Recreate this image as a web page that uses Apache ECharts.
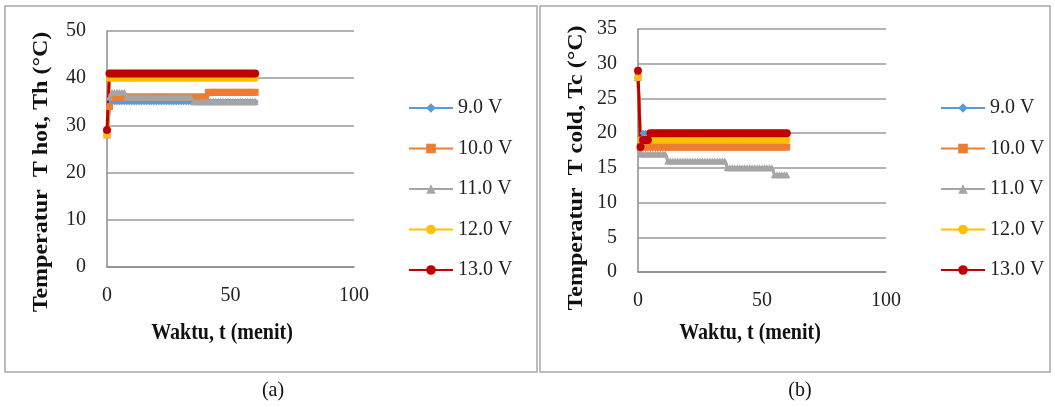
<!DOCTYPE html>
<html>
<head>
<meta charset="utf-8">
<script src="https://cdn.jsdelivr.net/npm/echarts@6/dist/echarts.min.js"></script>
<style>
html,body{margin:0;padding:0;background:#fff;}
#c{width:1055px;height:407px;}
</style>
</head>
<body>
<div id="c"></div>
<script>
var times = [0,1,2,3,4,5,6,7,8,9,10,11,12,13,14,15,16,17,18,19,20,21,22,23,24,25,26,27,28,29,30,31,32,33,34,35,36,37,38,39,40,41,42,43,44,45,46,47,48,49,50,51,52,53,54,55,56,57,58,59,60];
var seriesNames = ['9.0 V','10.0 V','11.0 V','12.0 V','13.0 V'];
var xTicks = [0,50,100];

var hot9 = [28,34,35,35,35,35,35,35,35,35, 35,35,35,35,35,35,35,35,35,35, 35,35,35,35,35,35,35,35,35,35, 35,35,35,35,35,35,35,35,35,35, 35,35,35,35,35,35,35,35,35,35, 35,35,35,35,35,35,35,35,35,35, 35];
var hot10 = [28,34,36,36,36,36,36,36,36,36, 36,36,36,36,36,36,36,36,36,36, 36,36,36,36,36,36,36,36,36,36, 36,36,36,36,36,36,36,36,36,36, 36,37,37,37,37,37,37,37,37,37, 37,37,37,37,37,37,37,37,37,37, 37];
var hot11 = [28,36,37,37,37,37,37,37,36,36, 36,36,36,36,36,36,36,36,36,36, 36,36,36,36,36,36,36,36,36,36, 36,36,36,36,36,35,35,35,35,35, 35,35,35,35,35,35,35,35,35,35, 35,35,35,35,35,35,35,35,35,35, 35];
var hot12 = [28,40,40,40,40,40,40,40,40,40, 40,40,40,40,40,40,40,40,40,40, 40,40,40,40,40,40,40,40,40,40, 40,40,40,40,40,40,40,40,40,40, 40,40,40,40,40,40,40,40,40,40, 40,40,40,40,40,40,40,40,40,40, 40];
var hot13 = [29,41,41,41,41,41,41,41,41,41, 41,41,41,41,41,41,41,41,41,41, 41,41,41,41,41,41,41,41,41,41, 41,41,41,41,41,41,41,41,41,41, 41,41,41,41,41,41,41,41,41,41, 41,41,41,41,41,41,41,41,41,41, 41];

var cold9 = [28,19,20,20,20,20,20,20,20,20, 20,20,20,20,20,20,20,20,20,20, 20,20,20,20,20,20,20,20,20,20, 20,20,20,20,20,20,20,20,20,20, 20,20,20,20,20,20,20,20,20,20, 20,20,20,20,20,20,20,20,20,20, 20];
var cold10 = [28,18,18,18,18,18,18,18,18,18, 18,18,18,18,18,18,18,18,18,18, 18,18,18,18,18,18,18,18,18,18, 18,18,18,18,18,18,18,18,18,18, 18,18,18,18,18,18,18,18,18,18, 18,18,18,18,18,18,18,18,18,18, 18];
var cold11 = [28,17,17,17,17,17,17,17,17,17, 17,17,16,16,16,16,16,16,16,16, 16,16,16,16,16,16,16,16,16,16, 16,16,16,16,16,16,15,15,15,15, 15,15,15,15,15,15,15,15,15,15, 15,15,15,15,15,14,14,14,14,14, 14];
var cold12 = [28,19,19,19,19,19,19,19,19,19, 19,19,19,19,19,19,19,19,19,19, 19,19,19,19,19,19,19,19,19,19, 19,19,19,19,19,19,19,19,19,19, 19,19,19,19,19,19,19,19,19,19, 19,19,19,19,19,19,19,19,19,19, 19];
var cold13 = [29,18,19,19,19,20,20,20,20,20, 20,20,20,20,20,20,20,20,20,20, 20,20,20,20,20,20,20,20,20,20, 20,20,20,20,20,20,20,20,20,20, 20,20,20,20,20,20,20,20,20,20, 20,20,20,20,20,20,20,20,20,20, 20];

var colors = ['#5B9BD5','#ED7D31','#A5A5A5','#FFC000','#C00000'];
var symbols = ['diamond','rect','triangle','circle','circle'];
var symSizes = [7,7,7,7,8];

var FONT = '"Liberation Serif","Times New Roman",serif';

function pairs(vals){ return times.map(function(t,i){ return [t, vals[i]]; }); }

var hotSets = [hot9,hot10,hot11,hot12,hot13];
var coldSets = [cold9,cold10,cold11,cold12,cold13];

var series = [];
function addSeries(sets, gi){
  sets.forEach(function(vals,i){
    series.push({
      name: seriesNames[i], type:'line', xAxisIndex:gi, yAxisIndex:gi,
      data: pairs(vals), symbol: symbols[i], symbolSize: symSizes[i],
      showSymbol:true, animation:false,
      lineStyle:{color:colors[i], width:3},
      itemStyle:{color:colors[i], borderWidth:0}
    });
  });
}
addSeries(hotSets,0);
addSeries(coldSets,1);

function xAxis(gi){
  return {type:'value', gridIndex:gi, min:0, max:100, interval:50,
    axisLine:{show:true, onZero:false, lineStyle:{color:'#8c8c8c', width:1.5}},
    axisTick:{show:false}, splitLine:{show:false},
    axisLabel:{fontFamily:FONT, fontSize:20, color:'#222', margin:19,
      formatter:function(v){ return xTicks.indexOf(v)>=0 ? String(v) : ''; }}};
}
function yAxis(gi,max,iv){
  return {type:'value', gridIndex:gi, min:0, max:max, interval:iv,
    axisLine:{show:true, lineStyle:{color:'#8c8c8c', width:1.5}},
    axisTick:{show:false},
    splitLine:{show:true, lineStyle:{color:'#9a9a9a', width:1.5}},
    axisLabel:{fontFamily:FONT, fontSize:20, color:'#222', margin:21}};
}
function legend(left){
  return {orient:'vertical', left:left, top:93, itemWidth:44, itemHeight:12, itemGap:20.5,
    data:seriesNames, selectedMode:false,
    textStyle:{fontFamily:FONT, fontSize:20, color:'#222', lineHeight:20}};
}

var option = {
  animation:false,
  grid:[
    {left:107, top:31, width:247, height:236},
    {left:638, top:29, width:248, height:243}
  ],
  xAxis:[xAxis(0), xAxis(1)],
  yAxis:[yAxis(0,50,10), yAxis(1,35,5)],
  legend:[legend(403), legend(935)],
  series: series,
  graphic:[
    {type:'rect', shape:{x:5,y:6,width:532,height:366}, style:{fill:'none', stroke:'#a6a6a6', lineWidth:1.5}, silent:true},
    {type:'rect', shape:{x:540,y:6,width:510,height:366}, style:{fill:'none', stroke:'#a6a6a6', lineWidth:1.5}, silent:true},
    {type:'text', x:42, y:172, rotation:Math.PI/2, scaleX:1.2,
      style:{text:'Temperatur  T hot, Th (\u00B0C)', font:'bold 20px '+FONT, fill:'#111', align:'center', verticalAlign:'middle'}},
    {type:'text', x:577, y:168, rotation:Math.PI/2, scaleX:1.2,
      style:{text:'Temperatur  T cold, Tc (\u00B0C)', font:'bold 20px '+FONT, fill:'#111', align:'center', verticalAlign:'middle'}},
    {type:'text', x:222, y:333, scaleY:1.2,
      style:{text:'Waktu, t (menit)', font:'bold 20px '+FONT, fill:'#111', align:'center', verticalAlign:'middle'}},
    {type:'text', x:750, y:333, scaleY:1.2,
      style:{text:'Waktu, t (menit)', font:'bold 20px '+FONT, fill:'#111', align:'center', verticalAlign:'middle'}},
    {type:'text', x:273, y:390, scaleY:1.1,
      style:{text:'(a)', font:'20px '+FONT, fill:'#111', align:'center', verticalAlign:'middle'}},
    {type:'text', x:800, y:390, scaleY:1.1,
      style:{text:'(b)', font:'20px '+FONT, fill:'#111', align:'center', verticalAlign:'middle'}}
  ]
};
var chart = echarts.init(document.getElementById('c'), null, {renderer:'canvas'});
chart.setOption(option);
</script>
</body>
</html>
